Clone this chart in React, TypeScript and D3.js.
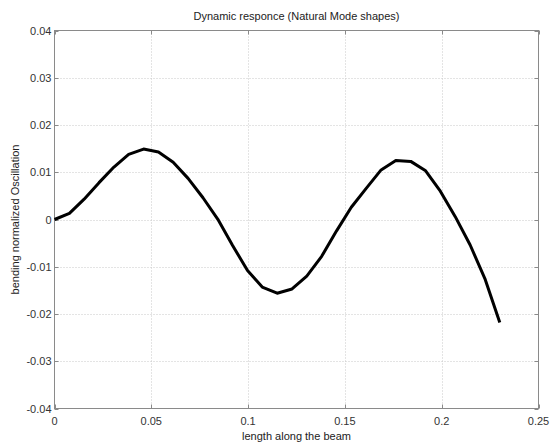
import React, { useEffect, useRef } from 'react';
import * as d3 from 'd3';

// beam positions (m) and normalized bending values
const positions = [
  0, 0.0077, 0.0153, 0.023, 0.0307, 0.0383, 0.046, 0.0537, 0.0613, 0.069,
  0.0767, 0.0843, 0.092, 0.0997, 0.1073, 0.115, 0.1227, 0.1303, 0.138, 0.1457,
  0.1533, 0.161, 0.1687, 0.1763, 0.184, 0.1917, 0.1993, 0.207, 0.2147, 0.2223, 0.23,
];
const bending = [
  0, 0.0013, 0.0043, 0.0078, 0.0111, 0.0138, 0.0149, 0.0143, 0.0121, 0.0087,
  0.0046, 0.0001, -0.0055, -0.0108, -0.0143, -0.0156, -0.0147, -0.012, -0.0078, -0.0024,
  0.0026, 0.0066, 0.0105, 0.0125, 0.0123, 0.0103, 0.006, 0.0006, -0.0054, -0.0125, -0.0218,
];
const xTicks = [0, 0.05, 0.1, 0.15, 0.2, 0.25];
const yTicks = [-0.04, -0.03, -0.02, -0.01, 0, 0.01, 0.02, 0.03, 0.04];

const title = 'Dynamic responce (Natural Mode shapes)';
const xLabel = 'length along the beam';
const yLabel = 'bending normalized Oscillation';

export default function App() {
  const ref = useRef<SVGSVGElement>(null);

  useEffect(() => {
    const width = 551;
    const height = 444;
    const left = 54.5;
    const right = 538.5;
    const top = 30.5;
    const bottom = 408.5;
    const font = 'Arial, "Liberation Sans", Helvetica, sans-serif';

    const svg = d3.select(ref.current);
    svg.selectAll('*').remove();
    svg.attr('width', width).attr('height', height);

    const x = d3.scaleLinear().domain([0, 0.25]).range([left, right]);
    const y = d3.scaleLinear().domain([-0.04, 0.04]).range([bottom, top]);

    svg.append('rect').attr('width', width).attr('height', height).attr('fill', '#fff');

    // grid
    const grid = svg.append('g').attr('stroke', '#c8c8c8').attr('stroke-dasharray', '1,2');
    grid
      .selectAll('.gx')
      .data(xTicks.slice(1, -1))
      .enter()
      .append('line')
      .attr('x1', (d) => Math.round(x(d)) + 0.5)
      .attr('x2', (d) => Math.round(x(d)) + 0.5)
      .attr('y1', top)
      .attr('y2', bottom);
    grid
      .selectAll('.gy')
      .data(yTicks.slice(1, -1))
      .enter()
      .append('line')
      .attr('y1', (d) => Math.round(y(d)) + 0.5)
      .attr('y2', (d) => Math.round(y(d)) + 0.5)
      .attr('x1', left)
      .attr('x2', right);

    // box + inward ticks on every side
    svg
      .append('rect')
      .attr('x', left)
      .attr('y', top)
      .attr('width', right - left)
      .attr('height', bottom - top)
      .attr('fill', 'none')
      .attr('stroke', '#8a8a8a');
    const ticks = svg.append('g').attr('stroke', '#8a8a8a');
    xTicks.forEach((t) => {
      const px = Math.round(x(t)) + 0.5;
      ticks.append('line').attr('x1', px).attr('x2', px).attr('y1', bottom).attr('y2', bottom - 4);
      ticks.append('line').attr('x1', px).attr('x2', px).attr('y1', top).attr('y2', top + 4);
    });
    yTicks.forEach((t) => {
      const py = Math.round(y(t)) + 0.5;
      ticks.append('line').attr('y1', py).attr('y2', py).attr('x1', left).attr('x2', left + 4);
      ticks.append('line').attr('y1', py).attr('y2', py).attr('x1', right).attr('x2', right - 4);
    });

    // tick labels
    svg
      .selectAll('.xl')
      .data(xTicks)
      .enter()
      .append('text')
      .attr('x', (d) => x(d))
      .attr('y', bottom + 16)
      .attr('text-anchor', 'middle')
      .style('font-family', font)
      .style('font-size', '11px')
      .attr('fill', '#333')
      .text((d) => `${d}`);
    svg
      .selectAll('.yl')
      .data(yTicks)
      .enter()
      .append('text')
      .attr('x', left - 3)
      .attr('y', (d) => y(d) + 4)
      .attr('text-anchor', 'end')
      .style('font-family', font)
      .style('font-size', '11px')
      .attr('fill', '#333')
      .text((d) => `${d}`);

    // the mode shape
    const line = d3
      .line<number>()
      .x((d, i) => x(positions[i]))
      .y((d) => y(d));
    svg
      .append('path')
      .datum(bending)
      .attr('d', line)
      .attr('fill', 'none')
      .attr('stroke', '#000')
      .attr('stroke-width', 3)
      .attr('stroke-linejoin', 'round');

    // titles
    svg
      .append('text')
      .attr('x', (left + right) / 2)
      .attr('y', 20)
      .attr('text-anchor', 'middle')
      .style('font-family', font)
      .style('font-size', '11px')
      .attr('fill', '#222')
      .text(title);
    svg
      .append('text')
      .attr('x', (left + right) / 2)
      .attr('y', bottom + 31)
      .attr('text-anchor', 'middle')
      .style('font-family', font)
      .style('font-size', '11px')
      .attr('fill', '#222')
      .text(xLabel);
    svg
      .append('text')
      .attr('transform', `translate(19,${(top + bottom) / 2}) rotate(-90)`)
      .attr('text-anchor', 'middle')
      .style('font-family', font)
      .style('font-size', '11px')
      .attr('fill', '#222')
      .text(yLabel);
  }, []);

  return (
    <div style={{ position: 'absolute', left: 0, top: 0 }}>
      <svg ref={ref} style={{ display: 'block' }} />
    </div>
  );
}
